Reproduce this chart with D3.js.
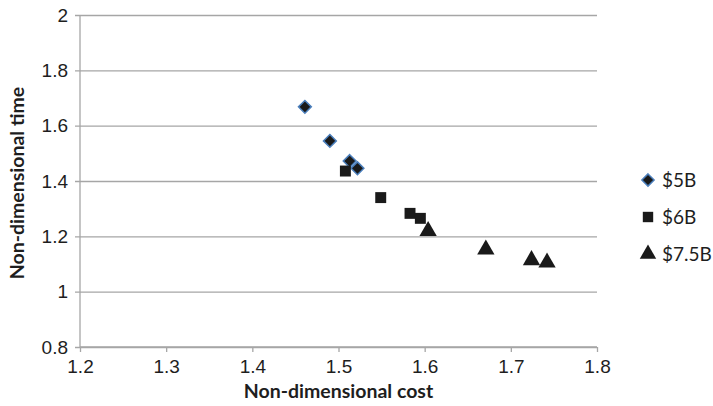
<!DOCTYPE html>
<html>
<head>
<meta charset="utf-8">
<script src="https://cdn.jsdelivr.net/npm/d3@7"></script>
<style>
  html, body { margin: 0; padding: 0; background: #fff; }
  svg { display: block; font-family: "Lato", "Open Sans", sans-serif; }
</style>
</head>
<body>
<svg id="chart" width="713" height="406"></svg>
<script>
// Scatter of non-dimensional cost vs. time for three budget levels
const seriesNames = ["$5B", "$6B", "$7.5B"];
const cost5B  = [1.461, 1.490, 1.513, 1.522];
const time5B  = [1.668, 1.545, 1.472, 1.446];
const cost6B  = [1.508, 1.549, 1.583, 1.595];
const time6B  = [1.436, 1.340, 1.283, 1.265];
const cost75B = [1.604, 1.671, 1.724, 1.742];
const time75B = [1.219, 1.152, 1.114, 1.105];
const xTicks = [1.2, 1.3, 1.4, 1.5, 1.6, 1.7, 1.8];
const yTicks = [0.8, 1, 1.2, 1.4, 1.6, 1.8, 2];

const series = [
  { name: seriesNames[0], xs: cost5B,  ys: time5B,  shape: d3.symbolDiamond2 },
  { name: seriesNames[1], xs: cost6B,  ys: time6B,  shape: d3.symbolSquare },
  { name: seriesNames[2], xs: cost75B, ys: time75B, shape: d3.symbolTriangle }
];

const svg = d3.select("#chart");
const plotL = 80, plotR = 597, plotT = 15, plotB = 347;

const x = d3.scaleLinear().domain([1.2, 1.8]).range([plotL, plotR]);
const y = d3.scaleLinear().domain([0.8, 2]).range([plotB, plotT]);

const gridColor = "#a6a6a6";
const textColor = "#1e1e1e";

// horizontal gridlines + left axis
const yAxis = d3.axisLeft(y).tickValues(yTicks)
  .tickFormat(d => String(d)).tickSize(-(plotR - plotL)).tickPadding(12);
const gy = svg.append("g").attr("transform", `translate(${plotL},0)`).call(yAxis);
gy.select(".domain").remove();
gy.selectAll(".tick line").attr("stroke", gridColor).attr("stroke-width", 1.3).attr("x1", -5);
gy.selectAll(".tick text").attr("fill", textColor).style("font-size", "19px");
svg.append("line").attr("x1", plotL).attr("x2", plotL).attr("y1", plotT).attr("y2", plotB)
  .attr("stroke", gridColor).attr("stroke-width", 1.3);

// bottom axis
const xAxis = d3.axisBottom(x).tickValues(xTicks)
  .tickFormat(d3.format(".1f")).tickSize(5).tickPadding(8);
const gx = svg.append("g").attr("transform", `translate(0,${plotB})`).call(xAxis);
gx.select(".domain").attr("stroke", gridColor).attr("stroke-width", 1.3).attr("d", `M${plotL},0H${plotR}`);
gx.selectAll(".tick line").attr("stroke", gridColor).attr("stroke-width", 1.3);
gx.selectAll(".tick text").attr("fill", textColor).style("font-size", "19px");

// axis titles
svg.append("text").attr("x", (plotL + plotR) / 2).attr("y", 398)
  .attr("text-anchor", "middle").attr("font-weight", "bold").attr("fill", textColor)
  .style("font-size", "19.5px").text("Non-dimensional cost");
svg.append("text").attr("transform", `translate(24,${(plotT + plotB) / 2 + 2}) rotate(-90)`)
  .attr("text-anchor", "middle").attr("font-weight", "bold").attr("fill", textColor)
  .style("font-size", "19.5px").text("Non-dimensional time");

// marker styling per series
function styleMarker(sel, i) {
  if (i === 0) {
    sel.attr("fill", "#1a1a1a").attr("stroke", "#4a7ebb").attr("stroke-width", 1.5);
  } else {
    sel.attr("fill", "#1a1a1a").attr("stroke", "none");
  }
}
const sizes = [105, 120, 130];

series.forEach((s, i) => {
  const pts = s.xs.map((v, k) => [v, s.ys[k]]);
  const sym = d3.symbol().type(s.shape).size(sizes[i]);
  svg.append("g").selectAll("path").data(pts).join("path")
    .attr("d", sym)
    .attr("transform", d => `translate(${x(d[0])},${y(d[1])})`)
    .call(sel => styleMarker(sel, i));
});

// legend
const legend = svg.append("g");
series.forEach((s, i) => {
  const ly = 180 + i * 37;
  const sym = d3.symbol().type(s.shape).size(sizes[i] * 0.9);
  legend.append("path").attr("d", sym).attr("transform", `translate(648,${ly})`)
    .call(sel => styleMarker(sel, i));
  legend.append("text").attr("x", 662).attr("y", ly).attr("dy", "0.36em")
    .attr("fill", textColor).style("font-size", "19px").text(s.name);
});
</script>
</body>
</html>
